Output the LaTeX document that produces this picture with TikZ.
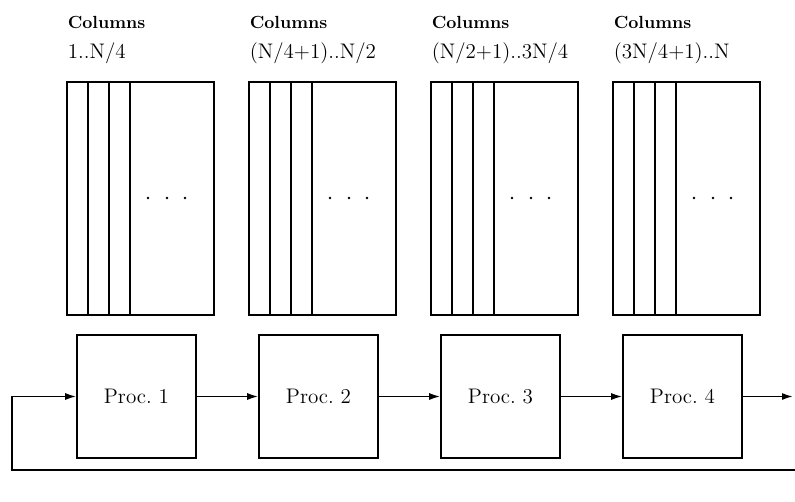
\documentclass[tikz,border=0pt]{standalone}
\usetikzlibrary{arrows.meta}
\begin{document}
\begin{tikzpicture}[x=0.02cm,y=-0.02cm,line width=0.9pt,
        proc/.style={draw,minimum width=2.38cm,minimum height=2.46cm,inner sep=0pt,font=\large},
        lbl/.style={anchor=base west,inner sep=0pt},
        arr/.style={-{Latex[length=2.2mm,width=1.4mm]}}]
        \useasboundingbox (0,0) rectangle (795,501);
        % column blocks of the matrix
        \foreach \x/\t [count=\i] in {67/{1..N/4},249/{(N/4+1)..N/2},431/{(N/2+1)..3N/4},613/{(3N/4+1)..N}} {
            \node[lbl] (h\i) at (\x,28) {\bfseries Columns};
            \node[lbl,font=\large] (r\i) at (\x,58) {\t};
            \draw (\x,82) rectangle ++(147,233);
            \foreach \d in {21,42,63} {
                \draw (\x+\d,82) -- ++(0,233);
            }
            \foreach \d in {81,100,118} {
                \fill (\x+\d,198) circle (0.8pt);
            }
            \node[proc] (p\i) at (\x+69.5,396.5) {Proc.\ \i};
        }
        \coordinate (out) at (793,396.5);
        \coordinate (fbr) at (795,470);
        \coordinate (fbl) at (12,470);
        \draw[arr] (p1) -- (p2);
        \draw[arr] (p2) -- (p3);
        \draw[arr] (p3) -- (p4);
        \draw[arr] (p4) -- (out);
        \draw[arr] (fbr) -- (fbl) |- (p1);
    \end{tikzpicture}
\end{document}
